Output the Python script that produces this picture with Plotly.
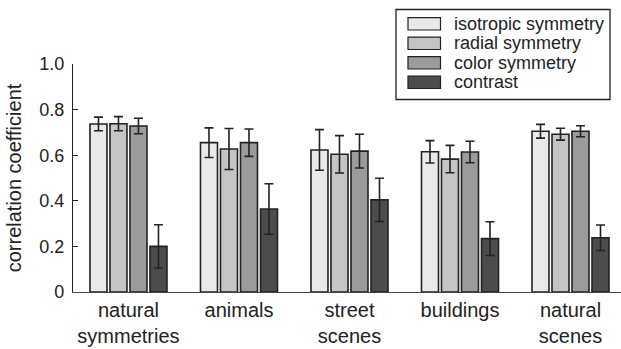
import plotly.graph_objects as go

# Scene categories (two-line labels on the x axis)
categories = ["natural<br>symmetries", "animals", "street<br>scenes", "buildings", "natural<br>scenes"]

# Mean correlation coefficient per feature and category
isotropic = [0.737, 0.655, 0.623, 0.615, 0.705]
radial = [0.738, 0.627, 0.604, 0.583, 0.692]
color_sym = [0.728, 0.655, 0.618, 0.614, 0.705]
contrast = [0.200, 0.364, 0.404, 0.234, 0.238]

# Error bar half-widths
isotropic_err = [0.030, 0.065, 0.089, 0.049, 0.030]
radial_err = [0.031, 0.090, 0.082, 0.060, 0.026]
color_sym_err = [0.034, 0.060, 0.074, 0.047, 0.024]
contrast_err = [0.095, 0.111, 0.095, 0.074, 0.056]

series_names = ["isotropic symmetry", "radial symmetry", "color symmetry", "contrast"]
series_values = [isotropic, radial, color_sym, contrast]
series_errors = [isotropic_err, radial_err, color_sym_err, contrast_err]
series_colors = ["#e8e9e8", "#c4c5c4", "#9a9b9a", "#4b4c4b"]

y_tickvals = [0, 0.2, 0.4, 0.6, 0.8, 1.0]
y_ticktext = ["0", "0.2", "0.4", "0.6", "0.8", "1.0"]

INK = "#222222"
FONT = "Liberation Sans, Arial, Helvetica, sans-serif"

W, H = 621, 349
ML, MR, MT, MB = 73, 0, 64, 57
PW, PH = W - ML - MR, H - MT - MB

x_idx = list(range(len(categories)))

fig = go.Figure()
for name, vals, errs, col in zip(series_names, series_values, series_errors, series_colors):
    fig.add_trace(go.Bar(
        name=name,
        x=x_idx,
        y=vals,
        marker=dict(color=col, line=dict(color=INK, width=1.6)),
        error_y=dict(type="data", array=errs, visible=True,
                     color=INK, thickness=1.6, width=4.5),
        showlegend=False,
    ))


def px_x(px):
    return (px - ML) / PW


def px_y(py):
    return (H - MB - py) / PH


# Hand-drawn legend box with wide swatches
shapes = [dict(type="rect", xref="paper", yref="paper",
               x0=px_x(396), x1=px_x(610), y0=px_y(99.5), y1=px_y(9.5),
               line=dict(color=INK, width=1.3), fillcolor="white", layer="above")]
annotations = []
row0, pitch = 23.8, 19.5
for i, (name, col) in enumerate(zip(series_names, series_colors)):
    cy = row0 + i * pitch
    shapes.append(dict(type="rect", xref="paper", yref="paper",
                       x0=px_x(408), x1=px_x(440.5), y0=px_y(cy + 6.2), y1=px_y(cy - 6.2),
                       line=dict(color=INK, width=1.2), fillcolor=col, layer="above"))
    annotations.append(dict(xref="paper", yref="paper", x=px_x(452), y=px_y(cy),
                            text=name, showarrow=False, xanchor="left", yanchor="middle",
                            font=dict(size=18, color=INK, family=FONT)))

fig.update_layout(
    width=W, height=H,
    margin=dict(l=ML, r=MR, t=MT, b=MB, pad=0),
    paper_bgcolor="white", plot_bgcolor="white",
    barmode="group", bargap=0.276, bargroupgap=0.15,
    font=dict(family=FONT, color=INK),
    shapes=shapes,
    annotations=annotations,
    xaxis=dict(
        range=[-0.502, 4.457],
        tickvals=x_idx, ticktext=categories,
        showline=True, linecolor="#444444", linewidth=1.3,
        ticks="", showgrid=False, zeroline=False,
        tickfont=dict(size=20, color=INK),
    ),
    yaxis=dict(
        range=[0, 1.0],
        tickvals=y_tickvals, ticktext=y_ticktext,
        showline=True, linecolor=INK, linewidth=1.3,
        ticks="inside", ticklen=5, tickwidth=1.3, tickcolor=INK,
        showgrid=False, zeroline=False,
        tickfont=dict(size=18, color=INK),
        ticklabelstandoff=4,
        title=dict(text="correlation coefficient", font=dict(size=20, color=INK), standoff=12),
    ),
)

fig.write_html("out.html")
